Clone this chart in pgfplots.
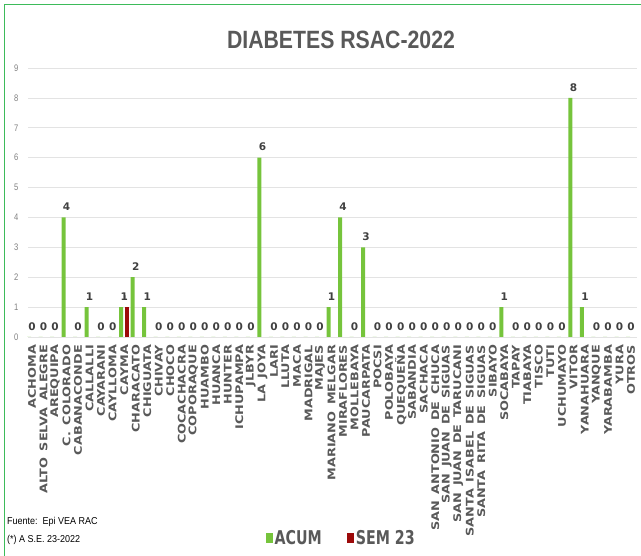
\documentclass[border=0pt]{standalone}
\usepackage{pgfplots}
\pgfplotsset{compat=1.18}
\usepackage{fontspec}
\setmainfont{Liberation Sans}
\newfontfamily\lblfont{DejaVu Sans}[FakeStretch=1.22, WordSpace=1.5]
\newfontfamily\valfont{DejaVu Sans}
\newfontfamily\titlefont{Liberation Sans}[FakeStretch=0.85]
\newfontfamily\legfont{DejaVu Sans}[FakeStretch=0.75]
\newfontfamily\notefont{Liberation Sans}[FakeStretch=0.9]
\newfontfamily\tickfont{Liberation Sans}[FakeStretch=0.8]
\definecolor{acum}{HTML}{76C43C}
\definecolor{sem}{HTML}{9C0A0A}
\definecolor{bordercol}{HTML}{3DBB5A}
\definecolor{txtgray}{HTML}{595959}
\definecolor{valgray}{HTML}{404040}
\definecolor{gridgray}{HTML}{E3E3E3}
\definecolor{tickgray}{HTML}{7F7F7F}
\begin{document}
\begin{tikzpicture}[x=1pt,y=1pt]
\useasboundingbox (0,0) rectangle (641,556);
\draw[bordercol, line width=1.3pt] (4.5,-2) -- (4.5,551.5) -- (645,551.5);
\node[font=\titlefont\bfseries\fontsize{25}{30}\selectfont, text=txtgray] at (341,516) {DIABETES RSAC-2022};
\node[anchor=west, font=\notefont\fontsize{10}{12}\selectfont, inner sep=0pt] at (7,34) {Fuente:\ \ Epi VEA RAC};
\node[anchor=west, font=\notefont\fontsize{10}{12}\selectfont, inner sep=0pt] at (7,16) {(*) A S.E. 23-2022};
\begin{axis}[
  at={(28pt,219pt)}, anchor=south west,
  scale only axis, width=608.8pt, height=269pt,
  xmin=-0.35, xmax=52.5, ymin=0, ymax=9,
  ytick={0,1,...,9},
  xtick={0,1,...,52},
  xticklabels={ACHOMA,ALTO SELVA ALEGRE,AREQUIPA,C. COLORADO,CABANACONDE,CALLALLI,CAYARANI,CAYLLOMA,CAYMA,CHARACATO,CHIGUATA,CHIVAY,CHOCO,COCACHACRA,COPORAQUE,HUAMBO,HUANCA,HUNTER,ICHUPAMPA,JLBYR,LA JOYA,LARI,LLUTA,MACA,MADRIGAL,MAJES,MARIANO MELGAR,MIRAFLORES,MOLLEBAYA,PAUCARPATA,POCSI,POLOBAYA,QUEQUEÑA,SABANDIA,SACHACA,SAN ANTONIO DE CHUCA,SAN JUAN DE SIGUAS,SAN JUAN DE TARUCANI,SANTA ISABEL DE SIGUAS,SANTA RITA DE SIGUAS,SIBAYO,SOCABAYA,TAPAY,TIABAYA,TISCO,TUTI,UCHUMAYO,VITOR,YANAHUARA,YANQUE,YARABAMBA,YURA,OTROS},
  xticklabel style={rotate=90, anchor=east, font=\lblfont\bfseries\fontsize{10.5}{10.5}\selectfont, text=txtgray},
  xticklabel shift=4.5pt,
  yticklabel style={font=\tickfont\fontsize{9.5}{10}\selectfont, text=tickgray},
  yticklabel shift=6pt,
  /pgf/number format/assume math mode=true,
  ymajorgrids, grid style={draw=gridgray, line width=0.7pt},
  axis line style={draw=none}, major tick length=0pt,
  clip=false,
  legend style={at={(0.385,-0.747)}, anchor=west, draw=none, fill=none,
    legend columns=2, font=\legfont\bfseries\fontsize{19}{22}\selectfont, text=txtgray,
    /tikz/every even column/.append style={column sep=23pt}},
  legend image code/.code={\fill[#1] (0pt,-5.5pt) rectangle (7pt,5pt);},
]
\addplot[ybar, bar width=4pt, bar shift=-3pt, fill=acum, draw=none,
  nodes near coords,
  nodes near coords style={font=\valfont\bfseries\fontsize{10.5}{11}\selectfont, text=valgray, yshift=3pt}]
coordinates {
(0,0) (1,0) (2,0) (3,4) (4,0) (5,1) (6,0) (7,0) (8,1) (9,2)
(10,1) (11,0) (12,0) (13,0) (14,0) (15,0) (16,0) (17,0) (18,0) (19,0)
(20,6) (21,0) (22,0) (23,0) (24,0) (25,0) (26,1) (27,4) (28,0) (29,3)
(30,0) (31,0) (32,0) (33,0) (34,0) (35,0) (36,0) (37,0) (38,0) (39,0)
(40,0) (41,1) (42,0) (43,0) (44,0) (45,0) (46,0) (47,8) (48,1) (49,0)
(50,0) (51,0) (52,0)
};
\addlegendentry{ACUM}
\addplot[ybar, bar width=4pt, bar shift=3pt, fill=sem, draw=none,
  nodes near coords,
  nodes near coords style={font=\notefont\fontsize{7}{8}\selectfont, text=valgray, yshift=3pt, xshift=1pt}]
coordinates {(8,1)};
\addlegendentry{SEM 23}
\end{axis}
\end{tikzpicture}
\end{document}
